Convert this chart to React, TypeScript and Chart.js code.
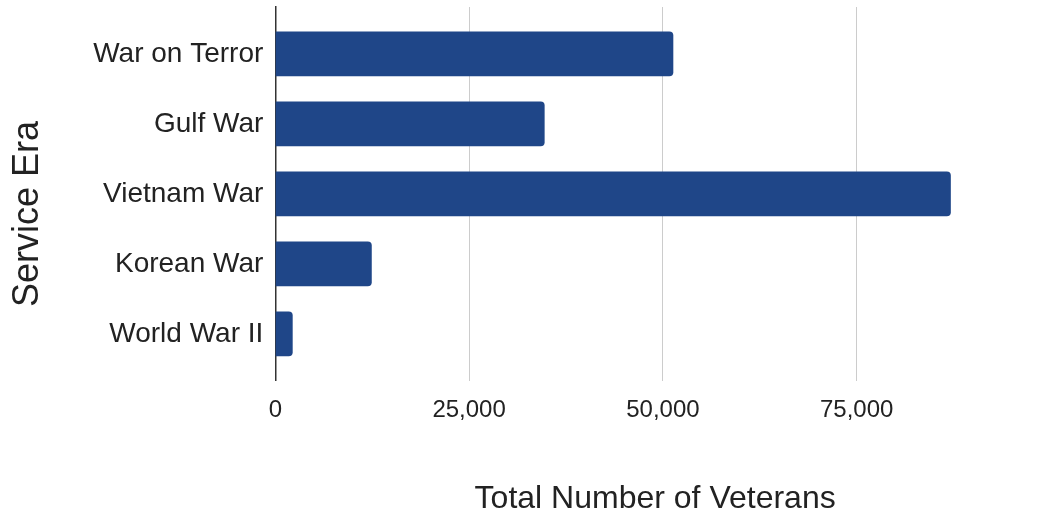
import React, { useEffect, useRef } from "react";
import { Chart, registerables } from "chart.js";

Chart.register(...registerables);

const categories = ["War on Terror", "Gulf War", "Vietnam War", "Korean War", "World War II"];
const veterans = [51300, 34700, 87100, 12400, 2200];
const xTickValues = [0, 25000, 50000, 75000];
const xTitle = "Total Number of Veterans";
const yTitle = "Service Era";

const SANS = "'Liberation Sans', Arial, sans-serif";

export default function App() {
  const ref = useRef<HTMLCanvasElement>(null);

  useEffect(() => {
    document.body.style.margin = "0";
    const chart = new Chart(ref.current!, {
      type: "bar",
      data: {
        datasets: [
          {
            data: veterans.map((v, i) => ({ x: v, y: i })),
            backgroundColor: "#1f4688",
            borderRadius: 4,
            borderSkipped: "start",
            barThickness: 44,
          },
        ],
      },
      options: {
        indexAxis: "y",
        responsive: false,
        animation: false,
        layout: { padding: { top: 7, right: 4, bottom: 0, left: 0 } },
        plugins: { legend: { display: false }, tooltip: { enabled: false } },
        scales: {
          x: {
            type: "linear",
            min: 0,
            max: 98000,
            afterBuildTicks: (s: any) => {
              s.ticks = xTickValues.map((v) => ({ value: v }));
            },
            grid: { color: "#cccccc", lineWidth: 1, drawTicks: false },
            border: { display: false },
            ticks: {
              padding: 15,
              color: "#222222",
              font: { family: SANS, size: 24 },
              callback: (v: any) => Number(v).toLocaleString("en-US"),
            },
            title: {
              display: true,
              text: xTitle,
              color: "#222222",
              font: { family: SANS, size: 32 },
              padding: { top: 40, bottom: 2 },
            },
          },
          y: {
            type: "linear",
            offset: false,
            min: -0.67,
            max: 4.67,
            reverse: true,
            afterBuildTicks: (s: any) => {
              s.ticks = categories.map((_, i) => ({ value: i }));
            },
            grid: {
              display: true,
              drawOnChartArea: false,
              drawTicks: true,
              tickLength: 12,
              color: "rgba(0,0,0,0)",
              offset: false,
            },
            border: { display: true, color: "#333333", width: 1.5 },
            ticks: {
              padding: 0,
              color: "#222222",
              font: { family: SANS, size: 28, lineHeight: 0.1 },
              callback: (v: any) => categories[Math.round(Number(v))] ?? "",
            },
            title: {
              display: true,
              text: yTitle + "    ",
              color: "#222222",
              font: { family: SANS, size: 36 },
              padding: { top: 6, bottom: 44 },
            },
          },
        },
      },
    } as any);
    return () => chart.destroy();
  }, []);

  return (
    <div style={{ position: "absolute", left: 0, top: 0, width: 1039, height: 520 }}>
      <canvas ref={ref} width={1039} height={520} />
    </div>
  );
}
